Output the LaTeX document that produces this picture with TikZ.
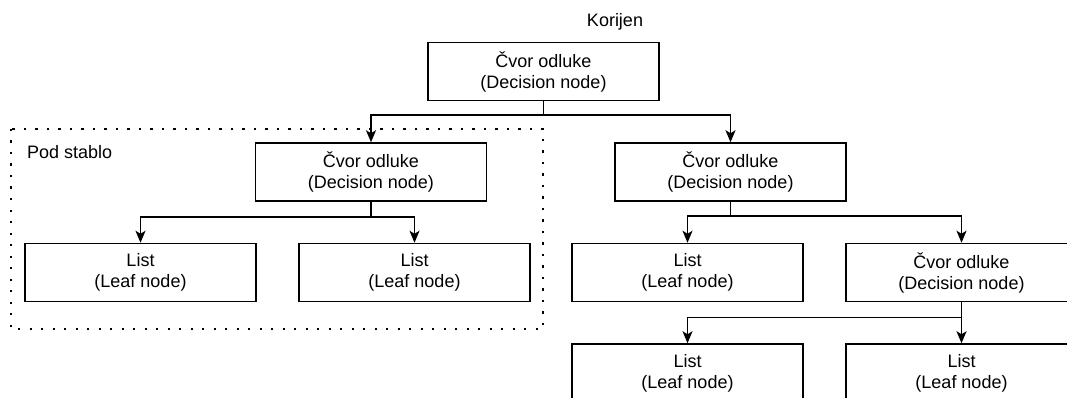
\documentclass[tikz,border=0pt]{standalone}
\usepackage{fontspec}
\setmainfont{Liberation Sans}
\usetikzlibrary{arrows.meta}

\begin{document}
\begin{tikzpicture}[x=1pt,y=-1pt,
  font=\fontsize{18}{21}\selectfont,
  box/.style={draw,line width=1.5pt,minimum width=231pt,minimum height=58pt,inner sep=0pt,align=center},
  arr/.style={line width=1.5pt,-{Stealth[length=12pt,width=10pt,inset=3pt]}},
  label/.style={inner sep=0pt}]
  \clip (0,0) rectangle (1067,398);

  % Root
  \node[label] (korijen) at (615,22) {Korijen};
  \node[box] (root) at (543.5,71.5) {Čvor odluke\\(Decision node)};

  % Subtree (dotted)
  \draw[line width=2.2pt,dash pattern=on 2.2pt off 9.3pt] (11,129) rectangle (543,329);
  \node[label,anchor=west] (pod) at (27,152) {Pod stablo};

  % Decision nodes
  \node[box] (dl) at (371,172) {Čvor odluke\\(Decision node)};
  \node[box] (dr) at (730.5,172) {Čvor odluke\\(Decision node)};
  \node[box] (rr) at (961.5,272.5) {Čvor odluke\\(Decision node)};

  % Leaves
  \node[box] (ll) at (140.5,272.5) {List\\(Leaf node)};
  \node[box] (lr) at (414.5,272.5) {List\\(Leaf node)};
  \node[box] (rl) at (687.5,272.5) {List\\(Leaf node)};
  \node[box] (bl) at (687.5,373) {List\\(Leaf node)};
  \node[box] (br) at (961.5,373) {List\\(Leaf node)};

  % Edges
  \draw[arr] (root.south) -- ++(0,14) -| (dl.north);
  \draw[arr] (root.south) -- ++(0,14) -| (dr.north);
  \draw[arr] (dl.south) -- ++(0,15) -| (ll.north);
  \draw[arr] (dl.south) -- ++(0,15) -| (lr.north);
  \draw[arr] (dr.south) -- ++(0,14) -| (rl.north);
  \draw[arr] (dr.south) -- ++(0,14) -| (rr.north);
  \draw[arr] (rr.south) -- ++(0,15) -| (bl.north);
  \draw[arr] (rr.south) -- ++(0,15) -| (br.north);
\end{tikzpicture}
\end{document}
